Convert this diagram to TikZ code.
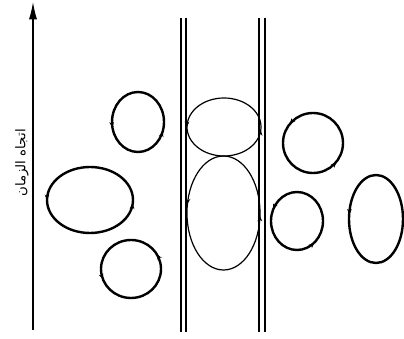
\documentclass[tikz,border=0pt]{standalone}
\usepackage{fontspec}
\newfontfamily\arabicfont[Script=Arabic]{DejaVu Sans}
\TeXXeTstate=1
\usetikzlibrary{decorations.markings,arrows.meta}
\tikzset{
  loopline/.style={line width=1.8pt},
  thinloop/.style={line width=0.9pt},
  rail/.style={line width=1.1pt},
  twomarks/.style 2 args={postaction={decorate},
    decoration={markings,
      mark=at position #1 with {\arrow{Stealth[length=4pt,width=3.5pt]}},
      mark=at position #2 with {\arrow{Stealth[length=4pt,width=3.5pt]}}}},
  onemark/.style={postaction={decorate},
    decoration={markings,
      mark=at position #1 with {\arrow{Stealth[length=4pt,width=3.5pt]}}}}
}
\begin{document}
\begin{tikzpicture}[x=0.75pt,y=0.75pt]
\useasboundingbox (0,0) rectangle (404,339);
% time arrow
\coordinate (tb) at (33,9);
\coordinate (tt) at (33,337);
\draw[line width=0.8pt,-{Latex[length=13pt,width=6pt]}] (tb) -- (tt);
\node[rotate=90,inner sep=0pt,font=\arabicfont\fontsize{10}{11}\selectfont] (lbl) at (22,176) {\beginR اتجاه الزمان\endR};
% rails
\draw[rail] (181,321) -- (181,7);
\draw[rail] (186,321) -- (186,7);
\draw[rail] (259,321) -- (259,7);
\draw[rail] (265,321) -- (265,7);
% left loops
\draw[loopline,twomarks={0.53}{0.945}] (138,217) ellipse [x radius=19.5pt, y radius=22.5pt];
\draw[loopline,twomarks={0.5}{0.985}] (90,139) ellipse [x radius=32.25pt, y radius=24.75pt];
\draw[loopline,twomarks={0.083}{0.555}] (131,70) ellipse [x radius=22.5pt, y radius=21.75pt];
% channel loops
\draw[thinloop,twomarks={0.5}{0.985}] (224,212) ellipse [x radius=27.75pt, y radius=21.75pt];
\draw[thinloop,twomarks={0.47}{0.99}] (223.5,126) ellipse [x radius=27.4pt, y radius=42.75pt];
% right loops
\draw[loopline,twomarks={0.39}{0.89}] (313,196) ellipse [x radius=22.5pt, y radius=22.5pt];
\draw[loopline,twomarks={0.43}{0.86}] (297,118) ellipse [x radius=19.5pt, y radius=21.75pt];
\draw[loopline,onemark={0.48}] (376,120) ellipse [x radius=20.25pt, y radius=33pt];
\end{tikzpicture}
\end{document}
